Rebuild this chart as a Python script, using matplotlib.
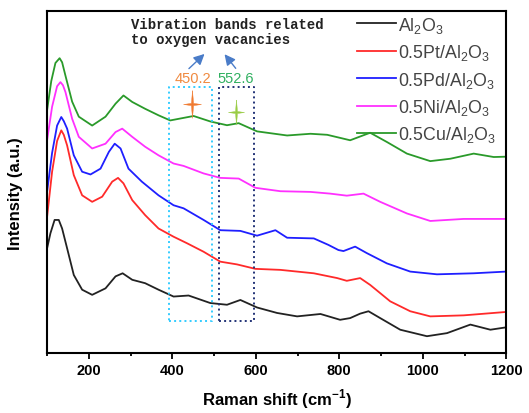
import numpy as np
import matplotlib.pyplot as plt
from matplotlib.ticker import MultipleLocator

# Raman shift (cm-1) and intensity (a.u.)
x_al = [100, 108, 118, 128, 136, 148, 164, 184, 208, 240, 264, 281, 304, 335, 367, 403, 439,
        491, 531, 563, 603, 651, 699, 755, 802, 826, 850, 870, 898, 946, 1010, 1058, 1114,
        1162, 1200]
y_al = [30.6, 35.0, 38.9, 38.9, 36.4, 30.6, 22.8, 18.5, 17.0, 18.9, 22.4, 23.3, 21.4, 20.4,
        18.5, 16.5, 16.8, 14.6, 14.1, 15.5, 13.3, 11.7, 10.7, 11.4, 9.7, 10.2, 11.5, 12.2,
        10.2, 6.8, 4.9, 5.8, 8.3, 6.8, 7.5]

x_pt = [100, 112, 124, 134, 140, 148, 164, 184, 208, 232, 256, 270, 283, 304, 335, 367, 403,
        435, 475, 515, 555, 599, 659, 739, 795, 818, 850, 874, 922, 970, 1018, 1098, 1200]
y_pt = [39.8, 53.0, 62.0, 65.1, 63.8, 60.7, 52.0, 46.1, 44.2, 45.7, 50.1, 51.2, 49.6, 44.7,
        40.3, 36.4, 34.0, 32.1, 29.6, 26.7, 25.9, 24.6, 24.3, 23.3, 21.9, 21.1, 21.9, 19.9,
        15.1, 12.2, 10.7, 11.0, 12.0]

x_pd = [100, 112, 124, 134, 140, 148, 164, 184, 204, 228, 248, 262, 276, 295, 327, 367, 403,
        427, 475, 515, 563, 603, 647, 675, 739, 774, 798, 810, 838, 866, 914, 970, 1034, 1122,
        1200]
y_pd = [47.1, 58.5, 66.5, 69.0, 67.8, 65.6, 57.8, 53.0, 52.2, 53.9, 58.8, 61.2, 59.8, 53.9,
        50.1, 46.1, 43.2, 42.3, 38.9, 35.9, 35.7, 34.3, 35.9, 33.7, 33.5, 31.6, 30.1, 29.8,
        31.1, 29.2, 26.2, 23.8, 23.0, 23.3, 23.8]

x_ni = [100, 112, 124, 132, 138, 144, 160, 176, 208, 240, 264, 280, 304, 335, 367, 403, 427,
        475, 515, 559, 599, 659, 731, 778, 818, 858, 898, 962, 1018, 1098, 1200]
y_ni = [62.2, 72.0, 78.0, 79.2, 78.3, 76.3, 68.5, 63.2, 59.8, 61.2, 64.6, 65.6, 63.2, 60.3,
        57.8, 55.4, 54.7, 52.5, 51.2, 51.0, 48.3, 47.3, 47.1, 46.6, 46.0, 46.6, 44.2, 40.8,
        38.6, 39.2, 39.2]

x_cu = [100, 110, 120, 130, 136, 144, 160, 176, 208, 240, 264, 283, 304, 335, 367, 395, 451,
        491, 531, 559, 603, 675, 731, 771, 802, 826, 874, 914, 962, 1018, 1066, 1122, 1170,
        1200]
y_cu = [71.0, 79.5, 84.8, 86.2, 85.0, 81.1, 73.5, 69.1, 66.5, 69.1, 72.9, 75.3, 73.4, 71.4,
        69.5, 68.0, 69.3, 67.7, 66.6, 67.2, 64.8, 63.6, 64.1, 63.8, 62.9, 62.2, 64.4, 61.7,
        58.3, 56.1, 56.8, 58.3, 57.3, 57.4]

labels = ['Al$_2$O$_3$', '0.5Pt/Al$_2$O$_3$', '0.5Pd/Al$_2$O$_3$',
          '0.5Ni/Al$_2$O$_3$', '0.5Cu/Al$_2$O$_3$']
colors = ['#222222', '#ff2a2a', '#1f1fff', '#ff30ff', '#2a9a2a']

peaks = [450.2, 552.6]

plt.rcParams['font.family'] = ['Liberation Sans', 'DejaVu Sans']
plt.rcParams['mathtext.fontset'] = 'custom'
plt.rcParams['mathtext.rm'] = 'Liberation Sans'
plt.rcParams['mathtext.bf'] = 'Liberation Sans:bold'

fig, ax = plt.subplots(figsize=(5.29, 4.14), dpi=100)
fig.subplots_adjust(left=0.089, right=0.957, top=0.971, bottom=0.145)

series = [(x_al, y_al), (x_pt, y_pt), (x_pd, y_pd), (x_ni, y_ni), (x_cu, y_cu)]
for (xs, ys), lab, c in zip(series, labels, colors):
    ax.plot(xs, ys, color=c, lw=1.3, label=lab)

# dotted boxes for the oxygen vacancy bands
ax.plot([393, 494, 494, 393, 393], [9.4, 9.4, 77.7, 77.7, 9.4], ls=':', color='#33ccff', lw=1.4)
ax.plot([511, 595, 595, 511, 511], [9.4, 9.4, 77.7, 77.7, 9.4], ls=':', color='#223377', lw=1.4)

ax.text(peaks[0], 79.2, f'{peaks[0]}', color='#f08a40', ha='center', va='baseline', fontsize=10.5)
ax.text(peaks[1], 79.2, f'{peaks[1]}', color='#30b060', ha='center', va='baseline', fontsize=10.5)

# thin four-pointed sparkle
star = [(0, 1), (0.08, 0.08), (0.65, 0), (0.08, -0.08), (0, -1), (-0.08, -0.08),
        (-0.65, 0), (-0.08, 0.08), (0, 1)]
ax.plot([446], [72.8], marker=star, ms=20, color='#f07a30', mew=0.3)
ax.plot([552], [70.4], marker=star, ms=18, color='#99cc44', mew=0.3)

ax.annotate('', xy=(482, 88.0), xytext=(435, 82.6),
            arrowprops=dict(arrowstyle='-|>', color='#4a7cc8', lw=1, mutation_scale=16))
ax.annotate('', xy=(521, 88.0), xytext=(556, 82.6),
            arrowprops=dict(arrowstyle='-|>', color='#4a7cc8', lw=1, mutation_scale=16))
ax.text(301, 98.3, 'Vibration bands related\nto oxygen vacancies', family='Liberation Mono',
        fontweight='bold', fontsize=10, va='top', ha='left', color='#222222', linespacing=1.15)

ax.set_xlim(100, 1200)
ax.set_ylim(0, 100)
ax.xaxis.set_major_locator(MultipleLocator(200))
ax.xaxis.set_minor_locator(MultipleLocator(100))
ax.tick_params(axis='x', which='major', direction='out', length=4, width=1.3,
               labelsize=10.5, pad=3)
ax.tick_params(axis='x', which='minor', direction='out', length=2.5, width=1.3)
ax.tick_params(axis='y', left=False, labelleft=False)
for lab in ax.get_xticklabels():
    lab.set_fontweight('bold')
for sp in ax.spines.values():
    sp.set_linewidth(1.5)

ax.set_xlabel('Raman shift (cm$^{\\mathbf{-1}}$)', fontsize=12, fontweight='bold', labelpad=7)
ax.set_ylabel('Intensity (a.u.)', fontsize=12, fontweight='bold')
ax.yaxis.set_label_coords(-0.052, 0.469)

leg = ax.legend(loc='upper right', bbox_to_anchor=(0.99, 1.005), frameon=False, fontsize=12.8,
                handlelength=2.2, handletextpad=0.15, labelspacing=0.42, borderaxespad=0.0,
                borderpad=0.3)
for t in leg.get_texts():
    t.set_color('#444444')

fig.savefig('out.png', dpi=100)
